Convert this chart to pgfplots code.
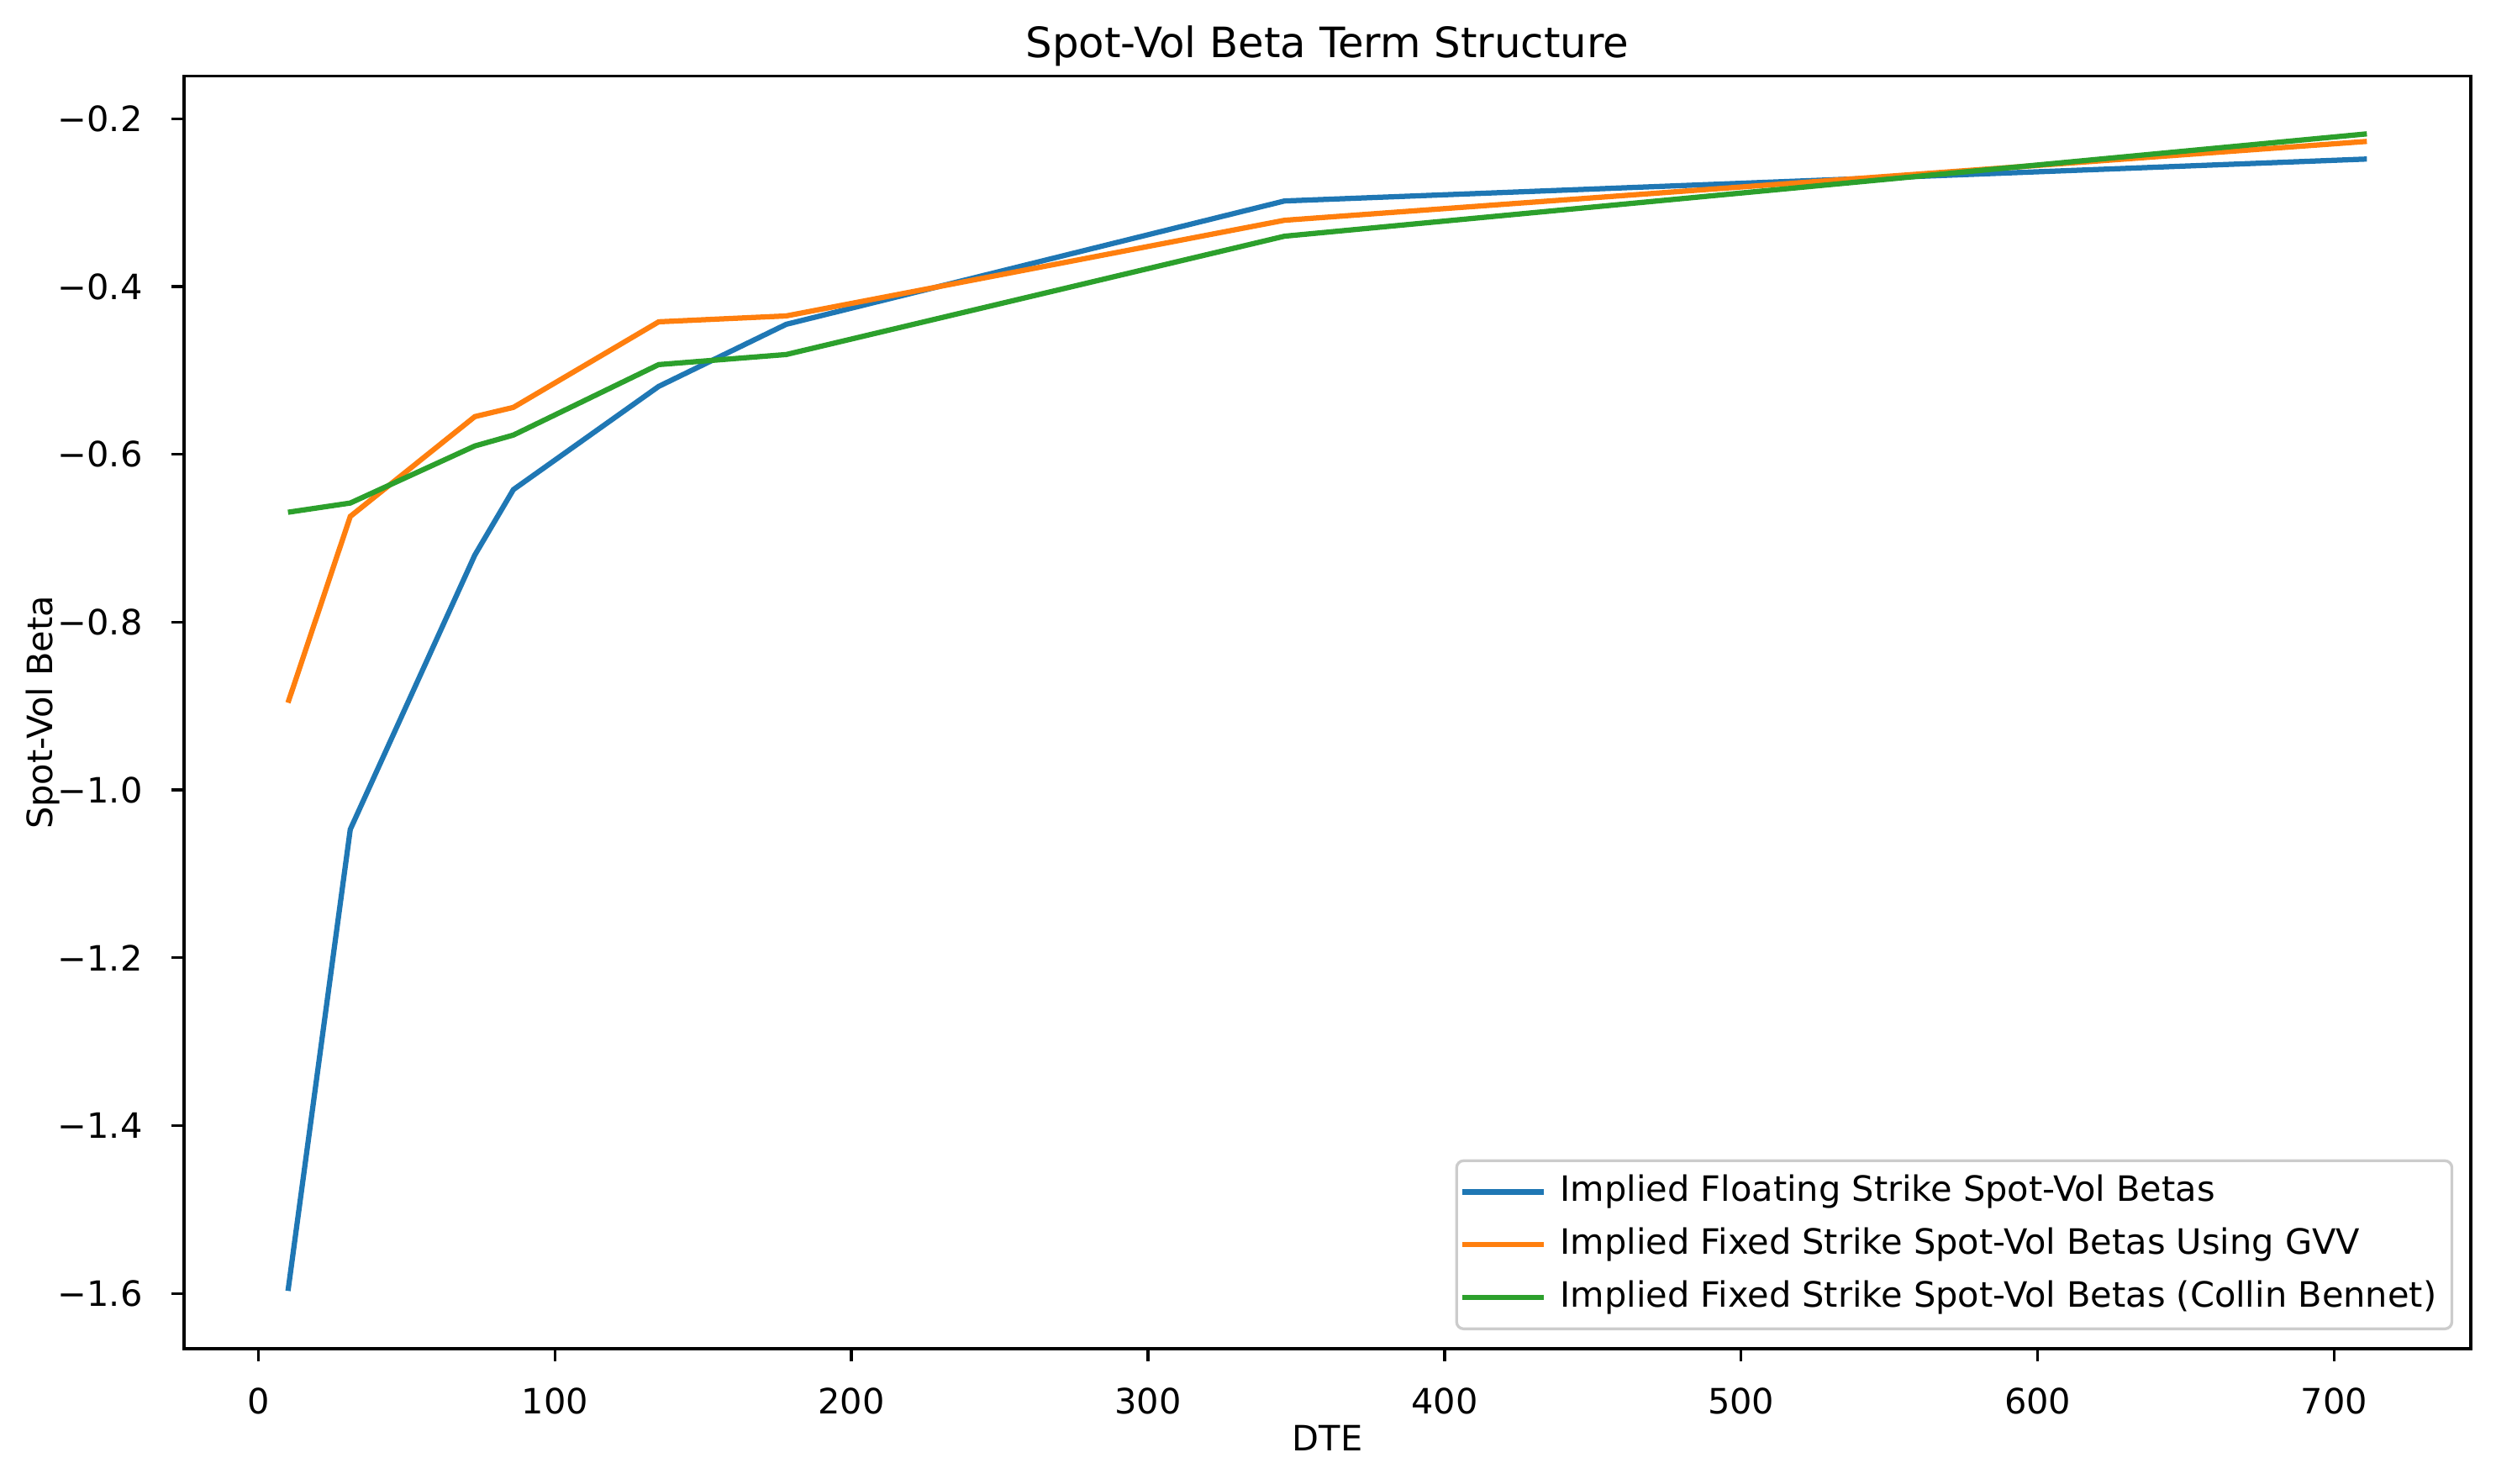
\documentclass[border=0pt]{standalone}
\usepackage{fontspec}
\setmainfont{DejaVu Sans}
\usepackage{pgfplots}
\pgfplotsset{compat=1.18}

\definecolor{tabblue}{HTML}{1F77B4}
\definecolor{taborange}{HTML}{FF7F0E}
\definecolor{tabgreen}{HTML}{2CA02C}
\definecolor{framegray}{HTML}{CCCCCC}

\begin{document}
\begin{tikzpicture}
\begin{axis}[
  scale only axis,
  width=653bp, height=363.5bp,
  xmin=-25.05, xmax=746.05,
  ymin=-1.666, ymax=-0.149,
  axis line style={line width=0.8bp},
  tick style={line width=0.8bp, black},
  tick align=outside,
  major tick length=3.5bp,
  xtick pos=bottom, ytick pos=left,
  xtick={0,100,200,300,400,500,600,700},
  xticklabels={0,100,200,300,400,500,600,700},
  ytick={-1.6,-1.4,-1.2,-1.0,-0.8,-0.6,-0.4,-0.2},
  yticklabels={−1.6,−1.4,−1.2,−1.0,−0.8,−0.6,−0.4,−0.2},
  ticklabel style={font=\fontsize{10}{12}\selectfont},
  xticklabel style={anchor=base, inner sep=0pt, yshift=-15.1bp},
  yticklabel style={anchor=east, inner sep=0pt, xshift=-8.2bp},
  title={Spot-Vol Beta Term Structure},
  % the default title style already lifts the title by 6pt
  title style={at={(axis description cs:0.5,1)}, anchor=base, yshift=-0.68bp,
    inner sep=0pt, font=\fontsize{12}{14}\selectfont},
  xlabel={DTE},
  xlabel style={at={(axis description cs:0.5,0)}, anchor=base, yshift=-29.2bp,
    inner sep=0pt, font=\fontsize{10}{12}\selectfont},
  ylabel={Spot-Vol Beta},
  ylabel style={at={(axis description cs:-0.0574,0.5)}, anchor=base,
    inner sep=0pt, font=\fontsize{10}{12}\selectfont},
  legend cell align=left,
  legend image code/.code={%
    \path (0bp,0bp) -- (21.8bp,0bp);
    \draw[#1, overlay] (-1.5bp,0bp) -- (20.3bp,0bp);},
  legend style={at={(axis description cs:1,0)}, anchor=south east,
    xshift=-5bp, yshift=5.3bp,
    draw=framegray, line width=0.8bp, rounded corners=2bp,
    fill=white, fill opacity=0.8, text opacity=1,
    font=\fontsize{10}{12}\selectfont,
    inner xsep=2.4bp, inner ysep=2.4bp, row sep=2.1bp, column sep=1.9bp,
    nodes={text height=7.6bp, text depth=2.4bp, inner ysep=1.5bp, inner xsep=2bp}},
]
\addplot[tabblue, line width=1.5bp] coordinates {
  (10,-1.597) (31,-1.047) (73,-0.720) (86,-0.642)
  (135,-0.519) (178,-0.445) (346,-0.298) (711,-0.248)};
\addlegendentry{Implied Floating Strike Spot-Vol Betas}
\addplot[taborange, line width=1.5bp] coordinates {
  (10,-0.896) (31,-0.674) (73,-0.555) (86,-0.544)
  (135,-0.442) (178,-0.435) (346,-0.321) (711,-0.227)};
\addlegendentry{Implied Fixed Strike Spot-Vol Betas Using GVV}
\addplot[tabgreen, line width=1.5bp] coordinates {
  (10,-0.669) (31,-0.658) (73,-0.590) (86,-0.577)
  (135,-0.493) (178,-0.481) (346,-0.340) (711,-0.218)};
\addlegendentry{Implied Fixed Strike Spot-Vol Betas (Collin Bennet)}
\end{axis}
\pgfresetboundingbox
\path[use as bounding box]
  ([xshift=-52.56bp,yshift=-38.4bp]current axis.south west)
  rectangle ([xshift=7.2bp,yshift=21.7bp]current axis.north east);
\end{tikzpicture}
\end{document}
